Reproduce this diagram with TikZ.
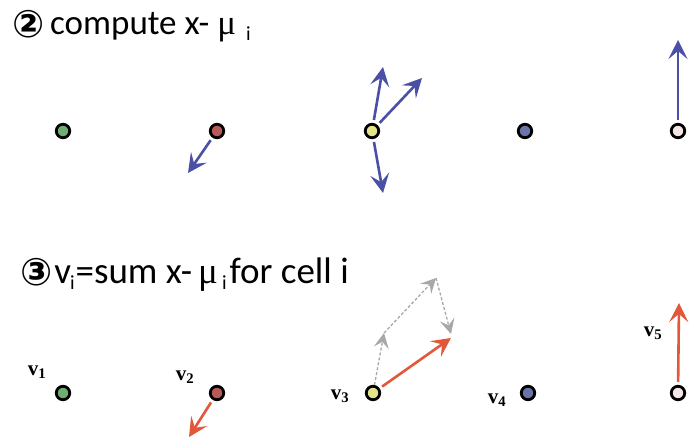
\documentclass[tikz,border=0pt]{standalone}
\usepackage{fontspec}
\setmainfont{Carlito}
\newfontfamily\circfont{DejaVu Sans}
\newfontfamily\lblfont{Liberation Serif}
\usetikzlibrary{arrows.meta}
\definecolor{cellgreen}{HTML}{6FAE72}
\definecolor{cellred}{HTML}{B85A5A}
\definecolor{cellyellow}{HTML}{E4E48A}
\definecolor{cellblue}{HTML}{6A74A8}
\definecolor{cellwhite}{HTML}{F2E6E6}
\definecolor{diffblue}{HTML}{4B4FA6}
\definecolor{sumred}{HTML}{E2583A}
\definecolor{partgray}{HTML}{A8A8A8}

\tikzset{
  cell/.style={circle, draw=black, line width=2.8pt, minimum size=13.5pt, inner sep=0pt},
  diff/.style={-{Stealth[length=19pt, width=19pt, inset=8pt]}, diffblue, line width=2.6pt, shorten <=3pt},
  vsum/.style={-{Stealth[length=19pt, width=19pt, inset=8pt]}, sumred, line width=2.6pt, shorten <=3pt},
  part/.style={-{Stealth[length=15pt, width=15pt, inset=6pt]}, partgray, line width=1.3pt, densely dashed},
  vlabel/.style={font=\lblfont\fontsize{21}{21}\selectfont\bfseries, inner sep=0pt},
  heading/.style={anchor=base west, inner sep=0pt, font=\fontsize{35}{35}\selectfont}
}
\newcommand{\numcirc}[1]{\raisebox{-0.08em}{\circfont\bfseries\fontsize{38}{38}\selectfont #1}}
\newcommand{\lowi}{\raisebox{-0.35ex}{\fontsize{20}{20}\selectfont i}}

\begin{document}
\begin{tikzpicture}[x=1pt, y=-1pt]
  \useasboundingbox (0,0) rectangle (692,438);

  % step 2: differences to the mean
  \node[heading] (headA) at (12,35)
    {\numcirc{②}\,compute x-\hspace{8pt}{\lblfont μ}\hspace{10pt}\lowi};
  \node[cell, fill=cellgreen]  (a1) at (63,131) {};
  \node[cell, fill=cellred]    (a2) at (217,131) {};
  \node[cell, fill=cellyellow] (a3) at (372,131) {};
  \node[cell, fill=cellblue]   (a4) at (525,131) {};
  \node[cell, fill=cellwhite]  (a5) at (678,131) {};
  \coordinate (a2d) at (188,173);
  \coordinate (a3u) at (383,67);
  \coordinate (a3r) at (422,78);
  \coordinate (a3d) at (383,193);
  \coordinate (a5u) at (678,40);
  \draw[diff] (a2) -- (a2d);
  \draw[diff] (a3) -- (a3u);
  \draw[diff] (a3) -- (a3r);
  \draw[diff] (a3) -- (a3d);
  \draw[diff] (a5) -- (a5u);

  % step 3: sum per cell
  \node[heading, font=\fontsize{37}{37}\selectfont] (headB) at (20,283)
    {\numcirc{③}\hspace{2pt}v\hspace{-1pt}\lowi\hspace{1pt}=sum x-\hspace{6pt}{\lblfont μ}\hspace{4pt}\lowi\hspace{3pt}for cell i};
  \node[cell, fill=cellgreen]  (b1) at (63,393) {};
  \node[cell, fill=cellred]    (b2) at (217,393) {};
  \node[cell, fill=cellyellow] (b3) at (373,393) {};
  \node[cell, fill=cellblue]   (b4) at (528,393) {};
  \node[cell, fill=cellwhite]  (b5) at (678,393) {};
  \node[vlabel] (v1) at (37,372) {v\textsubscript{1}};
  \node[vlabel] (v2) at (185,377) {v\textsubscript{2}};
  \node[vlabel] (v3) at (340,396) {v\textsubscript{3}};
  \node[vlabel] (v4) at (497,400) {v\textsubscript{4}};
  \node[vlabel] (v5) at (653,333) {v\textsubscript{5}};
  \coordinate (b2d) at (189,437);
  \coordinate (p1) at (384,333);
  \coordinate (p2) at (436,278);
  \coordinate (p3) at (451,334);
  \coordinate (b3s) at (451,338);
  \coordinate (b5u) at (679,303);
  \draw[part] (b3) -- (p1);
  \draw[part] (p1) -- (p2);
  \draw[part] (p2) -- (p3);
  \draw[vsum] (b2) -- (b2d);
  \draw[vsum] (b3) -- (b3s);
  \draw[vsum] (b5) -- (b5u);
\end{tikzpicture}
\end{document}
